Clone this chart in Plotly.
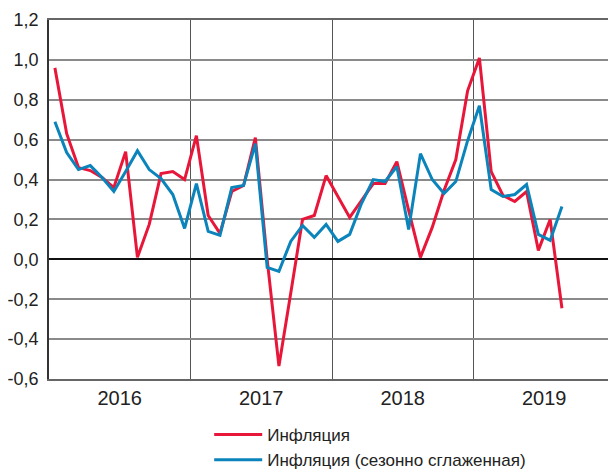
import plotly.graph_objects as go

# Monthly data, Jan 2016 .. Aug 2019 (44 months)
months = [f"{y}-{m:02d}" for y in (2016, 2017, 2018, 2019) for m in range(1, 13)][:44]

inflation = [
    0.96, 0.63, 0.46, 0.445, 0.41, 0.36, 0.54, 0.01, 0.175, 0.43, 0.44, 0.40,
    0.62, 0.22, 0.13, 0.34, 0.37, 0.61, 0.00, -0.535, -0.17, 0.20, 0.22, 0.42,
    0.315, 0.21, 0.295, 0.38, 0.38, 0.49, 0.245, 0.01, 0.16, 0.345, 0.50, 0.845,
    1.01, 0.44, 0.32, 0.29, 0.34, 0.045, 0.20, -0.245,
]
inflation_sa = [
    0.69, 0.535, 0.45, 0.47, 0.41, 0.34, 0.44, 0.545, 0.45, 0.405, 0.325, 0.155,
    0.38, 0.14, 0.12, 0.36, 0.37, 0.58, -0.04, -0.06, 0.09, 0.17, 0.11, 0.175,
    0.09, 0.125, 0.28, 0.40, 0.39, 0.465, 0.15, 0.53, 0.40, 0.33, 0.39, 0.595,
    0.77, 0.35, 0.315, 0.325, 0.375, 0.125, 0.095, 0.265,
]
years = ["2016", "2017", "2018", "2019"]
y_ticks = [-0.6, -0.4, -0.2, 0.0, 0.2, 0.4, 0.6, 0.8, 1.0, 1.2]
y_tick_labels = ["-0,6", "-0,4", "-0,2", "0,0", "0,2", "0,4", "0,6", "0,8", "1,0", "1,2"]

xpos = [i + 0.5 for i in range(len(months))]
FONT = "Liberation Sans, Arial, sans-serif"

fig = go.Figure()
fig.add_trace(go.Scatter(x=xpos, y=inflation, mode="lines", name="Инфляция",
                         line=dict(color="#E8173A", width=3), customdata=months))
fig.add_trace(go.Scatter(x=xpos, y=inflation_sa, mode="lines",
                         name="Инфляция (сезонно сглаженная)",
                         line=dict(color="#0A84BA", width=3), customdata=months))

fig.update_layout(
    width=616, height=483,
    margin=dict(l=41, r=9, t=12, b=112),
    plot_bgcolor="white", paper_bgcolor="white",
    font=dict(family=FONT, size=19, color="#222"),
    showlegend=True,
    legend=dict(x=0.283, y=-0.106, xanchor="left", yanchor="top",
                orientation="v", font=dict(size=17, family=FONT, color="#222"),
                itemwidth=48, tracegroupgap=0, bgcolor="rgba(0,0,0,0)"),
    xaxis=dict(
        range=[0, 48], automargin=False,
        tickvals=[6, 18, 30, 42], ticktext=years,
        showgrid=False, ticks="", zeroline=False,
        showline=True, mirror=True, linecolor="#666", linewidth=1.5,
        minor=dict(tick0=0, dtick=12, showgrid=True, gridcolor="#555", gridwidth=1.3),
        ticklabelstandoff=0,
        tickfont=dict(size=20),
    ),
    yaxis=dict(
        range=[-0.6, 1.2], automargin=False,
        tickvals=y_ticks, ticktext=y_tick_labels,
        showgrid=True, gridcolor="#8a8a8a", gridwidth=1.5,
        zeroline=True, zerolinecolor="#111", zerolinewidth=1.8,
        showline=True, mirror=True, linecolor="#333", linewidth=1.5,
        ticks="", ticklabelstandoff=5,
        tickfont=dict(size=18),
    ),
)

fig.write_html("out.html")
